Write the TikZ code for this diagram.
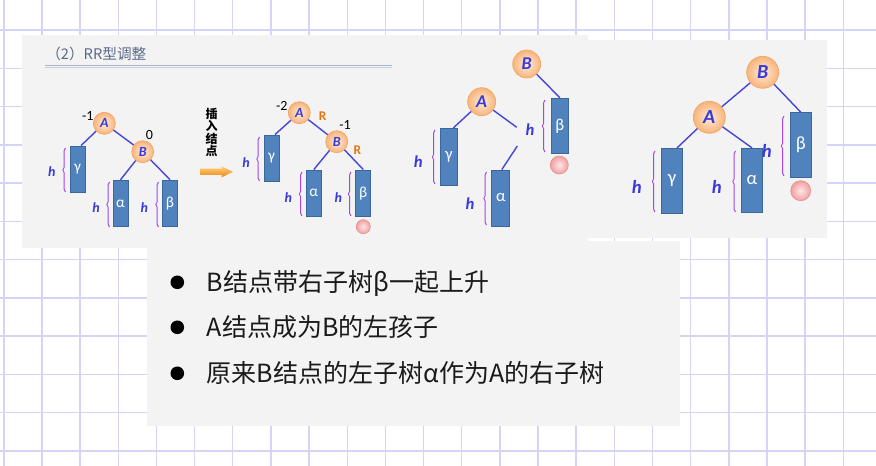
\documentclass[tikz,border=0pt]{standalone}
\usepackage{fontspec}
\setmainfont{Noto Sans CJK SC}
\newfontfamily\carl{Carlito}
\usetikzlibrary{decorations.pathreplacing,calc}
\definecolor{gridc}{HTML}{D4D4F7}
\definecolor{panelc}{HTML}{F3F3F3}
\definecolor{titlec}{HTML}{5A6A8A}
\definecolor{rulec}{HTML}{A9B6CB}
\definecolor{rulec2}{HTML}{C9D1E0}
\definecolor{edgec}{HTML}{4646D6}
\definecolor{rectc}{HTML}{5082BE}
\definecolor{rectb}{HTML}{3B679C}
\definecolor{bracec}{HTML}{A347EC}
\definecolor{hc}{HTML}{3A3AD8}
\definecolor{nodein}{HTML}{FEEBD8}
\definecolor{nodeout}{HTML}{F8B47A}
\definecolor{nodeb}{HTML}{F2A566}
\definecolor{rc}{HTML}{E8740F}
\definecolor{pinkin}{HTML}{FDE6E6}
\definecolor{pinkout}{HTML}{F2A0A0}
\definecolor{pinkb}{HTML}{E39393}
\definecolor{txtc}{HTML}{1A1A1A}
\definecolor{arrtop}{HTML}{FDD27A}
\definecolor{arrbot}{HTML}{EC8416}
\newcommand{\fsz}[1]{\fontsize{#1pt}{#1pt}\selectfont}
\tikzset{
 tn/.style={circle, inner sep=0pt, draw=nodeb, line width=0.5pt, shading=radial,
   inner color=nodein, outer color=nodeout, text=hc},
 sub/.style={rectangle, inner sep=0pt, draw=rectb, line width=0.6pt, fill=rectc, text=white},
 edge/.style={draw=edgec, line width=1.05pt},
 hl/.style={text=hc, inner sep=0pt},
 bal/.style={text=black, inner sep=0pt, font=\carl\fsz{10.5}},
 rl/.style={text=rc, inner sep=0pt, font=\carl\bfseries\fsz{10}},
 pk/.style={circle, inner sep=0pt, draw=pinkb, line width=0.5pt, shading=radial,
   inner color=pinkin, outer color=pinkout},
 brc/.style={draw=bracec, line width=0.7pt, decorate, decoration={brace, amplitude=2pt}},
 gridline/.style={draw=gridc, line width=1.1pt},
 bullet/.style={circle, fill=black, minimum size=10.2pt, inner sep=0pt},
 btext/.style={anchor=base west, text=txtc, inner sep=0pt, font=\fsz{18.75}},
}
\begin{document}
\begin{tikzpicture}[x=0.75pt,y=-0.75pt]
\useasboundingbox (0,0) rectangle (876,466);
\fill[white] (0,0) rectangle (876,466);
% grid
\foreach \i in {0,...,22} \draw[gridline] ({3.8+38.16*\i},0) -- ({3.8+38.16*\i},466);
\foreach \j in {0,...,11} \draw[gridline] (0,{30+38.27*\j}) -- (876,{30+38.27*\j});
% panels
\fill[panelc] (22,35) rectangle (588,248);
\fill[panelc] (588,40) rectangle (827,238);
\fill[panelc] (147,241) rectangle (680,426);
% title
\node[anchor=base west, text=titlec, inner sep=0pt, font=\fsz{11}] (title) at (46,60) {（2）RR型调整};
\draw[rulec, line width=0.9pt] (45,65.5) -- (392,65.5);
\draw[rulec2, line width=0.6pt] (45,67.8) -- (392,67.8);

% ---------- tree 1 ----------
\node[tn, minimum size=16.5pt, font=\carl\bfseries\itshape\fsz{10.5}] (A1) at (104.3,123.3) {A};
\node[tn, minimum size=16.5pt, font=\carl\bfseries\itshape\fsz{10.5}] (B1) at (142.7,151.7) {B};
\node[sub, minimum width=11.25pt, minimum height=34.5pt, font=\carl\fsz{11.5}] (g1) at (77.5,169) {γ};
\node[sub, minimum width=11.25pt, minimum height=35pt, font=\carl\fsz{11.5}] (a1) at (120.5,203.5) {α};
\node[sub, minimum width=11.25pt, minimum height=35pt, font=\carl\fsz{11.5}] (b1) at (170,203.5) {β};
\draw[edge] (A1) -- ($(g1.north)+(3.5,0)$);
\draw[edge] (A1) -- (B1);
\draw[edge] (B1) -- (a1.north);
\draw[edge] (B1) -- (b1.north);
\draw[brc] (65.5,192) -- (65.5,148);
\draw[brc] (109.5,227) -- (109.5,182);
\draw[brc] (158.5,227) -- (158.5,182);
\node[hl, font=\carl\bfseries\itshape\fsz{10.5}] (h11) at (51.7,171.7) {h};
\node[hl, font=\carl\bfseries\itshape\fsz{10.5}] (h12) at (96,207.7) {h};
\node[hl, font=\carl\bfseries\itshape\fsz{10.5}] (h13) at (144.3,207.7) {h};
\node[bal] (n11) at (87.7,116) {-1};
\node[bal] (n12) at (149.3,135) {0};

% arrow and label
\shade[top color=arrtop, bottom color=arrbot] (200,168.6) -- (221.5,168.6) -- (221.5,166.2) -- (233,171.8) -- (221.5,177.4) -- (221.5,175) -- (200,175) -- cycle;
\node[align=center, inner sep=0pt, font=\fontsize{9pt}{9.3pt}\selectfont\bfseries] (ins) at (211.7,132.5) {插\\入\\结\\点};

% ---------- tree 2 ----------
\node[tn, minimum size=16.5pt, font=\carl\bfseries\itshape\fsz{10.5}] (A2) at (299.3,112.7) {A};
\node[tn, minimum size=16.5pt, font=\carl\bfseries\itshape\fsz{10.5}] (B2) at (336.7,141.7) {B};
\node[sub, minimum width=11.25pt, minimum height=35pt, font=\carl\fsz{11.5}] (g2) at (271.5,158.3) {γ};
\node[sub, minimum width=11.25pt, minimum height=35pt, font=\carl\fsz{11.5}] (a2) at (313.8,193.3) {α};
\node[sub, minimum width=11.25pt, minimum height=35pt, font=\carl\fsz{11.5}] (b2) at (363.3,193.3) {β};
\node[pk, minimum size=10.5pt] (p2) at (363.3,226.7) {};
\draw[edge] (A2) -- ($(g2.north)+(3.5,0)$);
\draw[edge] (A2) -- (B2);
\draw[edge] (B2) -- (a2.north);
\draw[edge] (B2) -- (b2.north);
\draw[brc] (259.5,181) -- (259.5,137);
\draw[brc] (302,216) -- (302,172);
\draw[brc] (351,216) -- (351,172);
\node[hl, font=\carl\bfseries\itshape\fsz{10.5}] (h21) at (246,162.7) {h};
\node[hl, font=\carl\bfseries\itshape\fsz{10.5}] (h22) at (288.3,197.3) {h};
\node[hl, font=\carl\bfseries\itshape\fsz{10.5}] (h23) at (338.3,197.3) {h};
\node[bal] (n21) at (281.7,105.7) {-2};
\node[rl] (r21) at (322.7,116) {R};
\node[bal] (n22) at (345,125) {-1};
\node[rl] (r22) at (357.3,150) {R};

% ---------- tree 3 ----------
\node[tn, minimum size=21pt, font=\carl\bfseries\itshape\fsz{13.5}] (B3) at (526.7,64) {B};
\node[tn, minimum size=21pt, font=\carl\bfseries\itshape\fsz{13.5}] (A3) at (481.7,101.7) {A};
\node[sub, minimum width=13.3pt, minimum height=41.5pt, font=\carl\fsz{12.5}] (b3) at (559.8,125.8) {β};
\node[sub, minimum width=13.3pt, minimum height=42.5pt, font=\carl\fsz{12.5}] (g3) at (448.8,156.7) {γ};
\node[sub, minimum width=13.6pt, minimum height=42pt, font=\carl\fsz{12.5}] (a3) at (500.8,198) {α};
\node[pk, minimum size=13.5pt] (p3) at (559.3,165) {};
\coordinate (c31) at (516.7,127.3);
\coordinate (c32) at (517.3,146);
\draw[edge] (B3) -- (b3.north);
\draw[edge] (A3) -- ($(g3.north)+(4.5,0)$);
\draw[edge] (A3) -- (c31);
\draw[edge] (c32) -- ($(a3.north)+(1,0)$);
\draw[brc] (545,152) -- (545,100);
\draw[brc] (435,184) -- (435,130);
\draw[brc] (486.5,225) -- (486.5,172);
\node[hl, font=\carl\bfseries\itshape\fsz{12.5}] (h31) at (530,130) {h};
\node[hl, font=\carl\bfseries\itshape\fsz{12.5}] (h32) at (418.3,161.7) {h};
\node[hl, font=\carl\bfseries\itshape\fsz{12.5}] (h33) at (470,203.3) {h};

% ---------- tree 4 ----------
\node[tn, minimum size=24pt, font=\carl\bfseries\itshape\fsz{15}] (B4) at (762.7,72.3) {B};
\node[tn, minimum size=24pt, font=\carl\bfseries\itshape\fsz{15}] (A4) at (709.3,117.3) {A};
\node[sub, minimum width=15.4pt, minimum height=48.75pt, font=\carl\fsz{14}] (g4) at (672,180.8) {γ};
\node[sub, minimum width=15.4pt, minimum height=48.3pt, font=\carl\fsz{14}] (a4) at (752,180.5) {α};
\node[sub, minimum width=15.2pt, minimum height=48.5pt, font=\carl\fsz{14}] (b4) at (800.8,145) {β};
\node[pk, minimum size=15pt] (p4) at (800.7,190.7) {};
\draw[edge] (B4) -- (A4);
\draw[edge] (A4) -- ($(g4.north)+(5,0)$);
\draw[edge] (A4) -- (a4.north);
\draw[edge] (B4) -- (b4.north);
\draw[brc] (655,212) -- (655,151);
\draw[brc] (735.5,212) -- (735.5,151);
\draw[brc] (784,176) -- (784,116);
\node[hl, font=\carl\bfseries\itshape\fsz{14}] (h41) at (636.7,186.7) {h};
\node[hl, font=\carl\bfseries\itshape\fsz{14}] (h42) at (716.7,186.7) {h};
\node[hl, font=\carl\bfseries\itshape\fsz{14}] (h43) at (766.7,150.7) {h};

% ---------- bullets ----------
\node[bullet] (d1) at (177.3,282.3) {};
\node[bullet] (d2) at (177.3,327.3) {};
\node[bullet] (d3) at (177.3,373.3) {};
\node[btext] (t1) at (206.7,291.5) {B结点带右子树β一起上升};
\node[btext] (t2) at (206.7,336.5) {A结点成为B的左孩子};
\node[btext] (t3) at (206.7,383) {原来B结点的左子树α作为A的右子树};
\end{tikzpicture}
\end{document}
